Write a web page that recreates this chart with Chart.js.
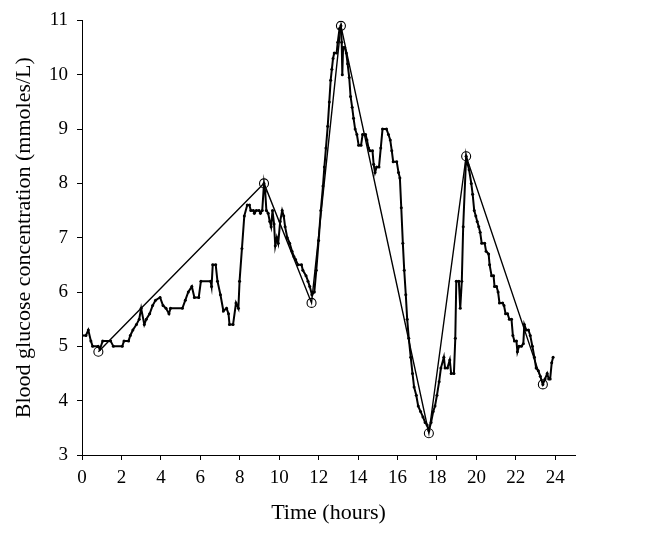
<!DOCTYPE html>
<html>
<head>
<meta charset="utf-8">
<script src="https://cdn.jsdelivr.net/npm/chart.js@4"></script>
<style>
  body { margin: 0; background: #fff; }
  canvas { display: block; }
</style>
</head>
<body>
<canvas id="chart" width="646" height="535"></canvas>
<script>
// CGM trace, hours vs mmol/L
const times = [0, 0.2, 0.32, 0.45, 0.54, 0.82, 0.91, 1.05, 1.45, 1.59, 2.04, 2.13, 2.36, 2.45, 2.58, 2.76, 2.9, 3.0, 3.16, 3.26,
  3.43, 3.58, 3.73, 3.96, 4.11, 4.26, 4.41, 4.49, 5.09, 5.24, 5.39, 5.57, 5.7, 5.92, 6.03, 6.52, 6.57, 6.63, 6.78, 6.87,
  7.02, 7.17, 7.33, 7.43, 7.48, 7.66, 7.81, 7.93, 7.99, 8.11, 8.23, 8.38, 8.49, 8.56, 8.69, 8.74, 8.84, 8.98, 9.05, 9.14,
  9.23, 9.29, 9.35, 9.44, 9.52, 9.59, 9.66, 9.74, 9.8, 9.88, 9.95, 10.05, 10.15, 10.23, 10.3, 10.41, 10.53, 10.65, 10.75, 10.83,
  10.95, 11.13, 11.2, 11.36, 11.46, 11.55, 11.66, 11.78, 11.88, 12.0, 12.11, 12.22, 12.29, 12.37, 12.46, 12.54, 12.61, 12.67, 12.73, 12.79,
  12.91, 12.97, 13.06, 13.13, 13.17, 13.2, 13.24, 13.32, 13.4, 13.47, 13.55, 13.62, 13.7, 13.77, 13.85, 13.94, 14.03, 14.15, 14.23, 14.38,
  14.45, 14.53, 14.6, 14.73, 14.79, 14.86, 14.94, 15.06, 15.15, 15.24, 15.44, 15.54, 15.63, 15.71, 15.78, 15.96, 16.05, 16.12, 16.19, 16.27,
  16.34, 16.42, 16.49, 16.57, 16.67, 16.76, 16.84, 16.95, 17.05, 17.17, 17.29, 17.4, 17.5, 17.59, 17.7, 17.81, 17.9, 18.0, 18.11, 18.2,
  18.35, 18.41, 18.53, 18.65, 18.72, 18.86, 18.93, 18.98, 19.11, 19.18, 19.26, 19.33, 19.48, 19.56, 19.63, 19.74, 19.81, 19.89, 19.97, 20.04,
  20.12, 20.19, 20.27, 20.42, 20.49, 20.62, 20.67, 20.77, 20.87, 20.92, 21.02, 21.1, 21.17, 21.33, 21.4, 21.48, 21.58, 21.67, 21.78, 21.85,
  21.93, 22.03, 22.08, 22.16, 22.28, 22.38, 22.43, 22.53, 22.64, 22.73, 22.84, 22.94, 23.03, 23.14, 23.24, 23.37, 23.48, 23.59, 23.67, 23.74,
  23.82, 23.89];
const glucose = [5.2, 5.2, 5.3, 5.1, 5.0, 5.0, 4.95, 5.1, 5.1, 5.0, 5.0, 5.1, 5.1, 5.2, 5.3, 5.4, 5.5, 5.7, 5.4, 5.5,
  5.6, 5.75, 5.85, 5.9, 5.75, 5.7, 5.6, 5.7, 5.7, 5.85, 6.0, 6.1, 5.9, 5.9, 6.2, 6.2, 6.1, 6.5, 6.5, 6.2,
  5.95, 5.65, 5.7, 5.6, 5.4, 5.4, 5.8, 5.7, 6.2, 6.8, 7.4, 7.6, 7.6, 7.5, 7.5, 7.45, 7.5, 7.5, 7.45, 7.5,
  8.0, 7.85, 7.5, 7.45, 7.3, 7.2, 7.5, 7.25, 6.85, 7.0, 6.9, 7.3, 7.5, 7.4, 7.2, 7.0, 6.9, 6.75, 6.65, 6.6,
  6.5, 6.5, 6.4, 6.3, 6.2, 6.1, 5.95, 6.0, 6.4, 6.95, 7.5, 7.95, 8.3, 8.65, 9.05, 9.5, 9.9, 10.1, 10.3, 10.4,
  10.4, 10.6, 10.85, 10.9, 10.6, 10.0, 10.5, 10.5, 10.4, 10.2, 9.95, 9.6, 9.4, 9.2, 9.0, 8.9, 8.7, 8.7, 8.9, 8.9,
  8.8, 8.65, 8.6, 8.6, 8.35, 8.2, 8.3, 8.3, 8.65, 9.0, 9.0, 8.9, 8.8, 8.6, 8.4, 8.4, 8.2, 8.1, 7.55, 6.9,
  6.4, 5.95, 5.5, 5.15, 4.8, 4.5, 4.25, 4.1, 3.9, 3.8, 3.7, 3.6, 3.55, 3.45, 3.6, 3.8, 3.9, 4.1, 4.35, 4.6,
  4.8, 4.6, 4.6, 4.75, 4.5, 4.5, 5.15, 6.2, 6.2, 5.7, 6.2, 7.2, 8.5, 8.35, 8.25, 8.0, 7.8, 7.5, 7.4, 7.3,
  7.2, 7.1, 6.9, 6.9, 6.75, 6.7, 6.5, 6.3, 6.3, 6.1, 6.1, 6.0, 5.8, 5.8, 5.75, 5.6, 5.6, 5.5, 5.5, 5.2,
  5.1, 5.1, 4.9, 5.0, 5.0, 5.05, 5.4, 5.3, 5.3, 5.2, 5.0, 4.8, 4.6, 4.55, 4.45, 4.3, 4.4, 4.5, 4.4, 4.4,
  4.7, 4.8];

// circled turning points joined by straight lines
const peakTimes = [0.83, 9.23, 11.64, 13.13, 17.59, 19.48, 23.37];
const peakValues = [4.9, 8.0, 5.8, 10.9, 3.4, 8.5, 4.3];

const xTicks = [0, 2, 4, 6, 8, 10, 12, 14, 16, 18, 20, 22, 24];
const yTicks = [3, 4, 5, 6, 7, 8, 9, 10, 11];

const serif = "'Liberation Serif', 'DejaVu Serif', serif";

const tracePts = times.map((t, i) => ({ x: t, y: glucose[i] }));
const peakPts = peakTimes.map((t, i) => ({ x: t, y: peakValues[i] }));

new Chart(document.getElementById("chart").getContext("2d"), {
  type: 'scatter',
  data: {
    datasets: [{
      data: tracePts,
      showLine: true,
      borderColor: '#000',
      backgroundColor: '#000',
      borderWidth: 2,
      pointRadius: 1.5,
      pointBorderWidth: 0,
      tension: 0
    }, {
      data: peakPts,
      showLine: true,
      borderColor: '#000',
      backgroundColor: 'rgba(0,0,0,0)',
      borderWidth: 1.4,
      pointRadius: 4.5,
      pointBorderWidth: 1.1,
      tension: 0
    }]
  },
  options: {
    responsive: false,
    animation: false,
    layout: { padding: { top: 19, right: 71, left: 0, bottom: 0 } },
    plugins: { legend: { display: false }, tooltip: { enabled: false } },
    scales: {
      x: {
        type: 'linear',
        min: 0,
        max: 25,
        afterBuildTicks: s => { s.ticks = xTicks.map(v => ({ value: v })); },
        afterFit: s => { s.height = 80; },
        grid: { drawOnChartArea: false, color: '#000', tickLength: 5 },
        border: { color: '#000', width: 1 },
        ticks: { color: '#000', padding: 7, font: { family: serif, size: 19 } },
        title: {
          display: true,
          text: 'Time (hours)',
          color: '#000',
          font: { family: serif, size: 22 },
          padding: { top: 0, bottom: 9 }
        }
      },
      y: {
        min: 3,
        max: 11,
        afterBuildTicks: s => { s.ticks = yTicks.map(v => ({ value: v })); },
        afterFit: s => { s.width = 82; },
        grid: { drawOnChartArea: false, color: '#000', tickLength: 5 },
        border: { color: '#000', width: 1 },
        ticks: { color: '#000', padding: 9, font: { family: serif, size: 19 } },
        title: {
          display: true,
          text: 'Blood glucose concentration (mmoles/L)',
          color: '#000',
          font: { family: serif, size: 22 },
          padding: { top: 11, bottom: 0 }
        }
      }
    }
  }
});
</script>
</body>
</html>
